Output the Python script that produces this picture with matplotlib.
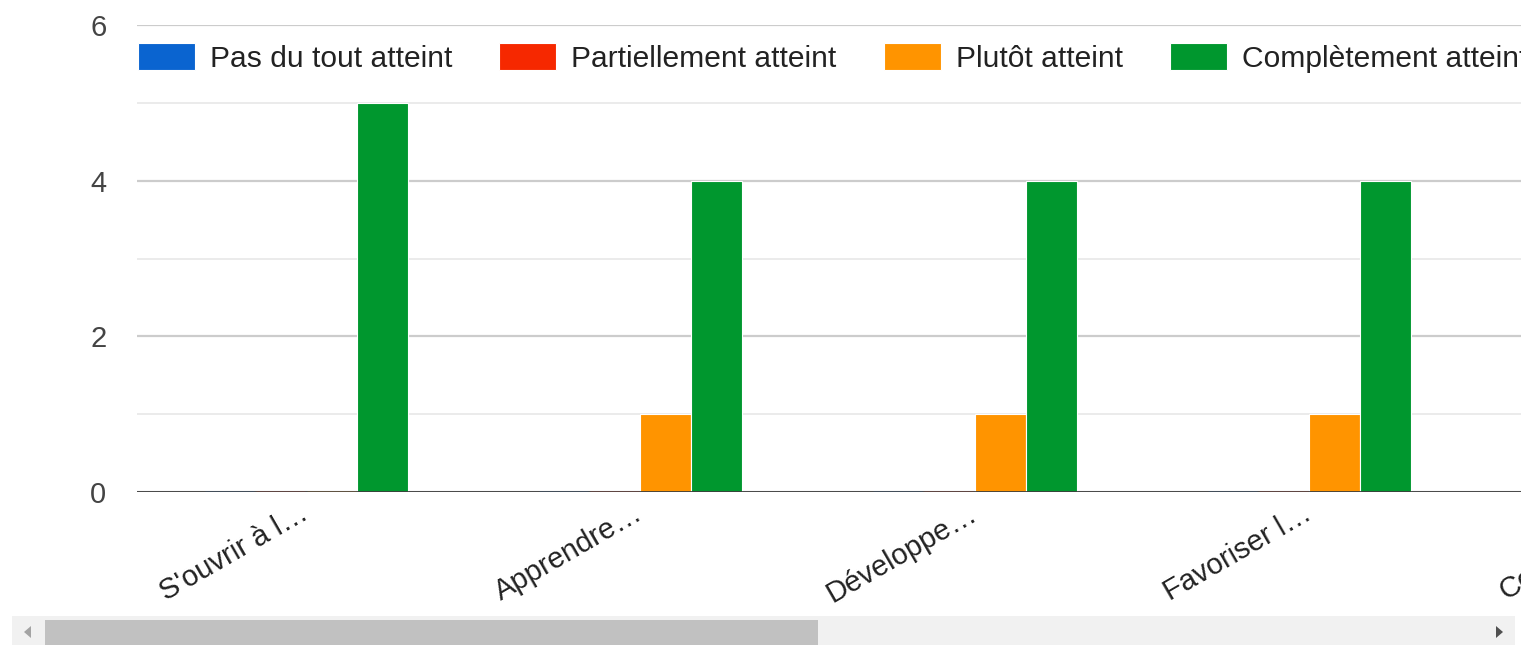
import matplotlib.pyplot as plt
import numpy as np
from matplotlib.patches import Rectangle, Polygon

plt.rcParams['font.family'] = ['Liberation Sans', 'DejaVu Sans']

# data
categories = ["S'ouvrir à l…", "Apprendre…", "Développe…", "Favoriser l…", "Construire…"]
series = ['Pas du tout atteint', 'Partiellement atteint', 'Plutôt atteint', 'Complètement atteint']
pasDuTout = [0, 0, 0, 0, 0]
partiellement = [0, 0, 0, 0, 0]
plutot = [0, 1, 1, 1, 1]
completement = [5, 4, 4, 4, 4]
colors = ['#0a64d0', '#f62800', '#ff9400', '#00972e']

W, H = 1521, 645
fig = plt.figure(figsize=(W / 100, H / 100), dpi=100)

# axes runs past the right edge, like the scrolled chart
left, right, top, bottom = 137, 1812, 25, 492
ax = fig.add_axes([left / W, 1 - bottom / H, (right - left) / W, (bottom - top) / H])

x = np.arange(len(categories))
bw = 0.1525
values = [pasDuTout, partiellement, plutot, completement]
for i, (vals, col, name) in enumerate(zip(values, colors, series)):
    ax.bar(x + (i - 1.5) * bw, vals, bw, color=col, edgecolor='white', linewidth=0.8,
           label=name, zorder=2)
    # zero values show as a thin tinted line on the baseline
    zeros = [j for j, v in enumerate(vals) if v == 0]
    for j in zeros:
        ax.plot([x[j] + (i - 2) * bw + 0.003, x[j] + (i - 1) * bw - 0.003], [0, 0],
                color=col, lw=1, alpha=0.6, zorder=4, solid_capstyle='butt')

ax.set_xlim(-0.504, 4.504)
ax.set_ylim(0, 6)
ax.set_yticks([0, 2, 4, 6])
ax.set_yticks([1, 3, 5], minor=True)
ax.grid(axis='y', which='major', color='#cccccc', linewidth=1.6, zorder=0)
ax.grid(axis='y', which='minor', color='#ebebeb', linewidth=1.4, zorder=0)
ax.axhline(0, color='#3c3c3c', linewidth=2, zorder=3)
for s in ax.spines.values():
    s.set_visible(False)

ax.set_xticks(x)
ax.set_xticklabels(categories, rotation=30, ha='right', va='center', rotation_mode='anchor')
ax.tick_params(axis='x', length=0, pad=14, labelsize=21, labelcolor='#222222')
ax.tick_params(axis='y', which='both', length=0, pad=22, labelsize=21, labelcolor='#444444')

handles, labels = ax.get_legend_handles_labels()
fig.legend(handles, labels, loc='center left', bbox_to_anchor=(138 / W, 1 - 58 / H),
           ncol=4, frameon=False, fontsize=21.6, borderpad=0, borderaxespad=0,
           handlelength=1.9, handleheight=1.0, handletextpad=0.5, columnspacing=1.57,
           labelcolor='#222222')

# horizontal scrollbar at the bottom
ov = fig.add_axes([0, 0, 1, 1], zorder=10)
ov.set_xlim(0, W)
ov.set_ylim(H, 0)
ov.axis('off')
ov.add_patch(Rectangle((12, 616), 1503, 29, color='#f1f1f1', lw=0))
ov.add_patch(Rectangle((45, 620), 773, 25, color='#c1c1c1', lw=0))
ov.add_patch(Polygon([[24, 632], [31, 626], [31, 638]], color='#a3a3a3', lw=0))
ov.add_patch(Polygon([[1503, 632], [1496, 626], [1496, 638]], color='#505050', lw=0))

fig.savefig('out.png', dpi=100)
